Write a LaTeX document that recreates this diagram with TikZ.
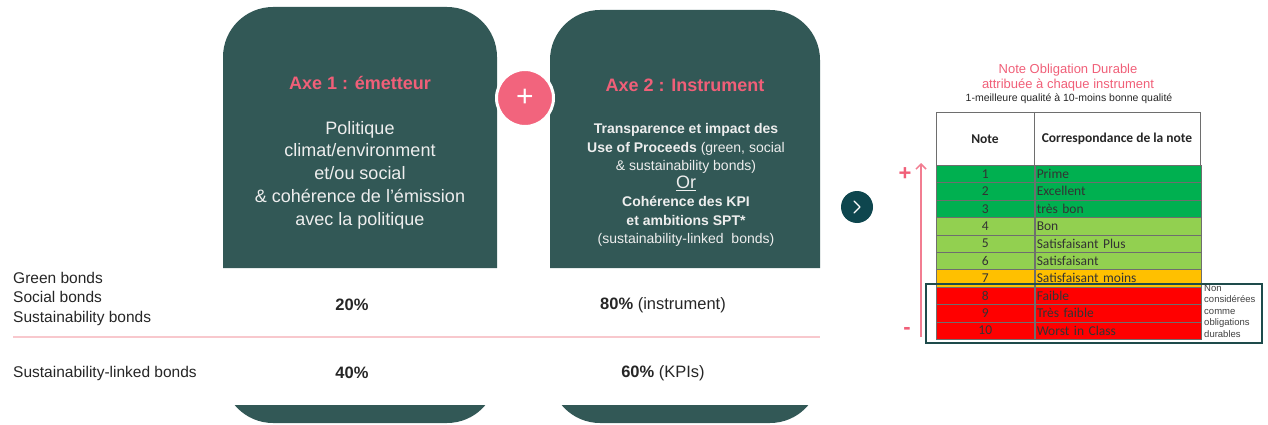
\documentclass[tikz,border=0pt]{standalone}
\usepackage{fontspec}
\setmainfont{Liberation Sans}
\newfontfamily\calibri{Carlito}
\usetikzlibrary{arrows.meta,positioning}
\definecolor{panelcol}{RGB}{50,88,86}
\definecolor{axepink}{RGB}{240,95,120}
\definecolor{pluspink}{RGB}{242,100,125}
\definecolor{chevcol}{RGB}{14,70,78}
\definecolor{seppink}{RGB}{248,200,205}
\definecolor{arrowpink}{RGB}{242,125,145}
\definecolor{panelfg}{RGB}{238,238,238}
\definecolor{gridgray}{RGB}{110,110,110}
\definecolor{boxteal}{RGB}{30,75,75}
\definecolor{noteA}{RGB}{0,176,80}
\definecolor{noteB}{RGB}{146,208,80}
\definecolor{noteC}{RGB}{255,192,0}
\definecolor{noteD}{RGB}{255,0,0}

\begin{document}
\begin{tikzpicture}[x=1pt,y=-1pt,
  panel/.style={fill=panelcol},
  axetitle/.style={text=axepink,font=\fontsize{18}{22}\selectfont\bfseries},
  bodytxt/.style={text=panelfg,align=center,inner sep=0},
  rowlbl/.style={text=black!85,align=left,inner sep=0,
    font=\fontsize{15.5}{19.5}\selectfont},
  pct/.style={text=black!85,inner sep=0,font=\fontsize{16.5}{20}\selectfont\bfseries},
  numcell/.style={draw=gridgray,line width=.5,minimum width=98,minimum height=17.4,
    inner sep=0,font=\calibri\fontsize{13.5}{15}\selectfont,text=black!80},
  txtcell/.style={draw=gridgray,line width=.5,minimum width=166,minimum height=17.4,
    text width=162,inner xsep=2,inner ysep=0,align=left,
    font=\calibri\fontsize{13.5}{15}\selectfont,text=black!80},
  hdr/.style={font=\calibri\fontsize{13.5}{15}\selectfont\bfseries,text=black!85},
  pm/.style={text=axepink,font=\fontsize{22}{22}\selectfont\bfseries,inner sep=0},
  ]
  \useasboundingbox (0,0) rectangle (1268,425);

  % the two axes
  \fill[panel,rounded corners=50] (223,268) -- (223,7) -- (497,7) -- (497,268);
  \fill[panel,rounded corners=50] (550,268) -- (550,10) -- (820,10) -- (820,268);
  \begin{scope}
    \clip (0,405) rectangle (1268,425);
    \fill[panel,rounded corners=50] (223,300) rectangle (497,423);
    \fill[panel,rounded corners=50] (550,300) rectangle (820,423);
  \end{scope}

  \node[axetitle] (axe1) at (360,83) {Axe 1 : émetteur};
  \node[bodytxt,font=\fontsize{18}{22.8}\selectfont] (emet) at (360,175)
    {Politique\\climat/environment\\et/ou social\\\& cohérence de l’émission\\avec la politique};

  \node[axetitle] (axe2) at (685,85) {Axe 2 : Instrument};
  \node[bodytxt,font=\fontsize{14}{18.3}\selectfont] (instr) at (686,185)
    {\textbf{Transparence et impact des}\\
     \textbf{Use of Proceeds} (green, social\\
     \& sustainability bonds)\\
     {\fontsize{18}{20}\selectfont\underline{Or}}\\
     \textbf{Cohérence des KPI}\\
     \textbf{et ambitions SPT*}\\
     (sustainability-linked\ \ bonds)};

  \node[circle,fill=pluspink,draw=white,line width=3,minimum size=57,inner sep=0,
    text=white,font=\fontsize{30}{30}\selectfont] (plus) at (525,98) {+};

  % weights
  \node[rowlbl,anchor=west] (grp1) at (13,298.5)
    {Green bonds\\Social bonds\\Sustainability bonds};
  \node[rowlbl,anchor=west] (grp2) at (13,373) {Sustainability-linked bonds};
  \coordinate (sepL) at (13,337);
  \coordinate (sepR) at (820,337);
  \draw[seppink,line width=1.5] (sepL) -- (sepR);
  \node[pct] (w1) at (352,305) {20\%};
  \node[pct] (w2) at (663,305) {80\% \mdseries(instrument)};
  \node[pct] (w3) at (352,373) {40\%};
  \node[pct] (w4) at (663,373) {60\% \mdseries(KPIs)};

  \node[circle,fill=chevcol,minimum size=32,inner sep=0] (next) at (857,207) {};
  \draw[white,line width=1.2,line cap=round,line join=round]
    (next.center) ++(-3,-6) -- ++(6,6) -- ++(-6,6);

  % grading table
  \node[text=axepink,align=center,inner sep=0,font=\fontsize{13}{15}\selectfont]
    (ttl) at (1068,77.5) {Note Obligation Durable\\attribuée à chaque instrument};
  \node[text=black!85,inner sep=0,font=\fontsize{10.5}{12}\selectfont]
    (sub) at (1069,99) {1-meilleure qualité à 10-moins bonne qualité};

  \draw[gridgray,line width=.5,fill=white] (936,112) rectangle (1200,165);
  \draw[gridgray,line width=.5] (1034,112) -- (1034,165);
  \node[hdr] (hnote) at (985,139) {Note};
  \node[hdr] (hcorr) at (1117,139) {Correspondance de la note};

  \foreach \n/\q/\c [evaluate=\n as \ya using 165+(\n-1)*17.4] in
    {1/Prime/noteA, 2/Excellent/noteA, 3/très bon/noteA,
     4/Bon/noteB, 5/Satisfaisant Plus/noteB, 6/Satisfaisant/noteB,
     7/Satisfaisant moins/noteC,
     8/Faible/noteD, 9/Très faible/noteD, 10/Worst in Class/noteD}
  {
    \node[numcell,fill=\c,anchor=north west] (num\n) at (936,\ya) {\n};
    \node[txtcell,fill=\c,right=0pt of num\n] (lbl\n) {\q};
  }

  \draw[boxteal,line width=1.5] (926,284) rectangle (1262,343);
  \node[anchor=north west,align=left,inner sep=0,text=black!75,
    font=\fontsize{9.5}{11.5}\selectfont] (nonc) at (1204,284.5)
    {Non\\considérées\\comme\\obligations\\durables};

  \coordinate (arrbot) at (921,337);
  \coordinate (arrtop) at (921,163);
  \draw[arrowpink,line width=1.5,-{Straight Barb[length=5,width=10]}] (arrbot) -- (arrtop);
  \node[pm] (pplus) at (905,174) {+};
  \node[pm] (pminus) at (907,331) {-};

\end{tikzpicture}
\end{document}
